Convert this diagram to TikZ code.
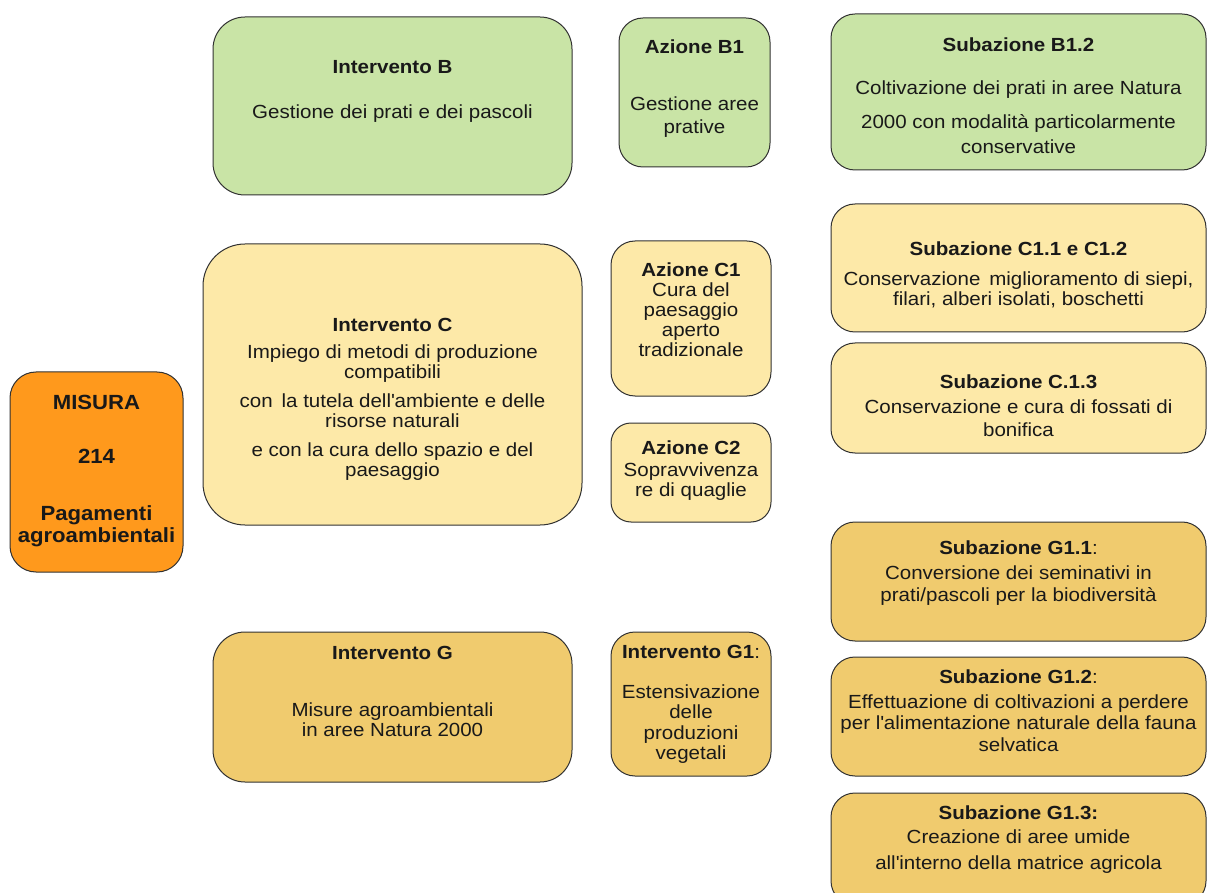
\documentclass[tikz,border=0pt]{standalone}
\usepackage{fontspec}
\setmainfont{Liberation Sans}[FakeStretch=1.08]
\definecolor{cgreen}{RGB}{201,228,166}
\definecolor{cyell}{RGB}{253,233,168}
\definecolor{cgold}{RGB}{240,203,110}
\definecolor{corange}{RGB}{255,153,28}
\definecolor{cborder}{RGB}{50,50,50}
\definecolor{ctext}{RGB}{25,25,25}
\newcommand{\apo}{\textquotesingle}
\tikzset{
  boxx/.style={draw=cborder, line width=1pt, rounded corners=#1},
  boxx/.default=22pt,
  txt/.style={align=center, inner sep=0pt, anchor=north, text=ctext,
    font=\fontsize{19}{20}\selectfont},
}
\begin{document}
\begin{tikzpicture}[x=1pt,y=-1pt]
\useasboundingbox (0,0) rectangle (1208,893);
\fill[white] (0,0) rectangle (1208,893);
\clip (0,0) rectangle (1208,893);
% boxes
\draw[boxx=26pt, fill=corange] (10,372) rectangle (183,572);
\node[inner sep=0pt] (M) at (96.5,472) {};
\draw[boxx=32pt, fill=cgreen] (213,17) rectangle (572,195);
\node[inner sep=0pt] (IB) at (392.5,106) {};
\draw[boxx=24pt, fill=cgreen] (619,18) rectangle (770,167);
\node[inner sep=0pt] (AB) at (694.5,92) {};
\draw[boxx=24pt, fill=cgreen] (831,14) rectangle (1206,170);
\node[inner sep=0pt] (SB) at (1018.5,92) {};
\draw[boxx=42pt, fill=cyell] (203,244) rectangle (582,525);
\node[inner sep=0pt] (IC) at (392.5,384) {};
\draw[boxx=24pt, fill=cyell] (611,241) rectangle (771,396);
\node[inner sep=0pt] (AC1) at (691,318) {};
\draw[boxx=20pt, fill=cyell] (611,423) rectangle (771,522);
\node[inner sep=0pt] (AC2) at (691,472) {};
\draw[boxx=24pt, fill=cyell] (831,204) rectangle (1206,332);
\node[inner sep=0pt] (SC1) at (1018.5,268) {};
\draw[boxx=24pt, fill=cyell] (831,343) rectangle (1206,453);
\node[inner sep=0pt] (SC3) at (1018.5,398) {};
\draw[boxx=24pt, fill=cgold] (831,522) rectangle (1206,641);
\node[inner sep=0pt] (SG1) at (1018.5,581) {};
\draw[boxx=24pt, fill=cgold] (831,657) rectangle (1206,776);
\node[inner sep=0pt] (SG2) at (1018.5,716) {};
\draw[boxx=24pt, fill=cgold] (831,793) rectangle (1206,905);
\node[inner sep=0pt] (SG3) at (1018.5,849) {};
\draw[boxx=32pt, fill=cgold] (213,632) rectangle (572,782);
\node[inner sep=0pt] (IG) at (392.5,707) {};
\draw[boxx=24pt, fill=cgold] (611,632) rectangle (771,776);
\node[inner sep=0pt] (IG1) at (691,704) {};
% texts
\node[txt, font=\fontsize{20.5}{21}\selectfont] (Mt) at (96.5,395) {\textbf{MISURA}\\[33pt]\textbf{214}\\[36pt]\textbf{Pagamenti}\\[1pt]\textbf{agroambientali}};
\node[txt] (IBt) at (392.5,60) {\textbf{Intervento B}\\[25pt]Gestione dei prati e dei pascoli};
\node[txt] (ABt) at (694.5,40) {\textbf{Azione B1}\\[37pt]Gestione aree\\[3pt]prative};
\node[txt] (SBt) at (1018.5,38) {\textbf{Subazione B1.2}\\[23pt]Coltivazione dei prati in aree Natura\\[14pt]2000 con modalità particolarmente\\[5pt]conservative};
\node[txt] (ICt) at (392.5,318) {\textbf{Intervento C}\\[7pt]Impiego di metodi di produzione\\compatibili\\[9pt]con\, la tutela dell\apo ambiente e delle\\risorse naturali\\[9pt]e con la cura dello spazio e del\\paesaggio};
\node[txt] (AC1t) at (691,263) {\textbf{Azione C1}\\Cura del\\paesaggio\\aperto\\tradizionale};
\node[txt] (AC2t) at (691,441) {\textbf{Azione C2}\\[2pt]Sopravvivenza\\re di quaglie};
\node[txt] (SC1t) at (1018.5,242) {\textbf{Subazione C1.1 e C1.2}\\[10pt]Conservazione\, miglioramento di siepi,\\filari, alberi isolati, boschetti};
\node[txt] (SC3t) at (1018.5,375) {\textbf{Subazione C.1.3}\\[5pt]Conservazione e cura di fossati di\\[3pt]bonifica};
\node[txt] (SG1t) at (1018.5,541) {\textbf{Subazione G1.1}:\\[5pt]Conversione dei seminativi in\\[2pt]prati/pascoli per la biodiversità};
\node[txt] (SG2t) at (1018.5,670) {\textbf{Subazione G1.2}:\\[5pt]Effettuazione di coltivazioni a perdere\\[1pt]per l\apo alimentazione naturale della fauna\\[2pt]selvatica};
\node[txt] (SG3t) at (1018.5,806) {\textbf{Subazione G1.3:}\\[4pt]Creazione di aree umide\\[6pt]all\apo interno della matrice agricola};
\node[txt] (IGt) at (392.5,646) {\textbf{Intervento G}\\[37pt]Misure agroambientali\\in aree Natura 2000};
\node[txt] (IG1t) at (691,645) {\textbf{Intervento G1}:\\[20pt]Estensivazione\\delle\\[1pt]produzioni\\vegetali};
\end{tikzpicture}
\end{document}
